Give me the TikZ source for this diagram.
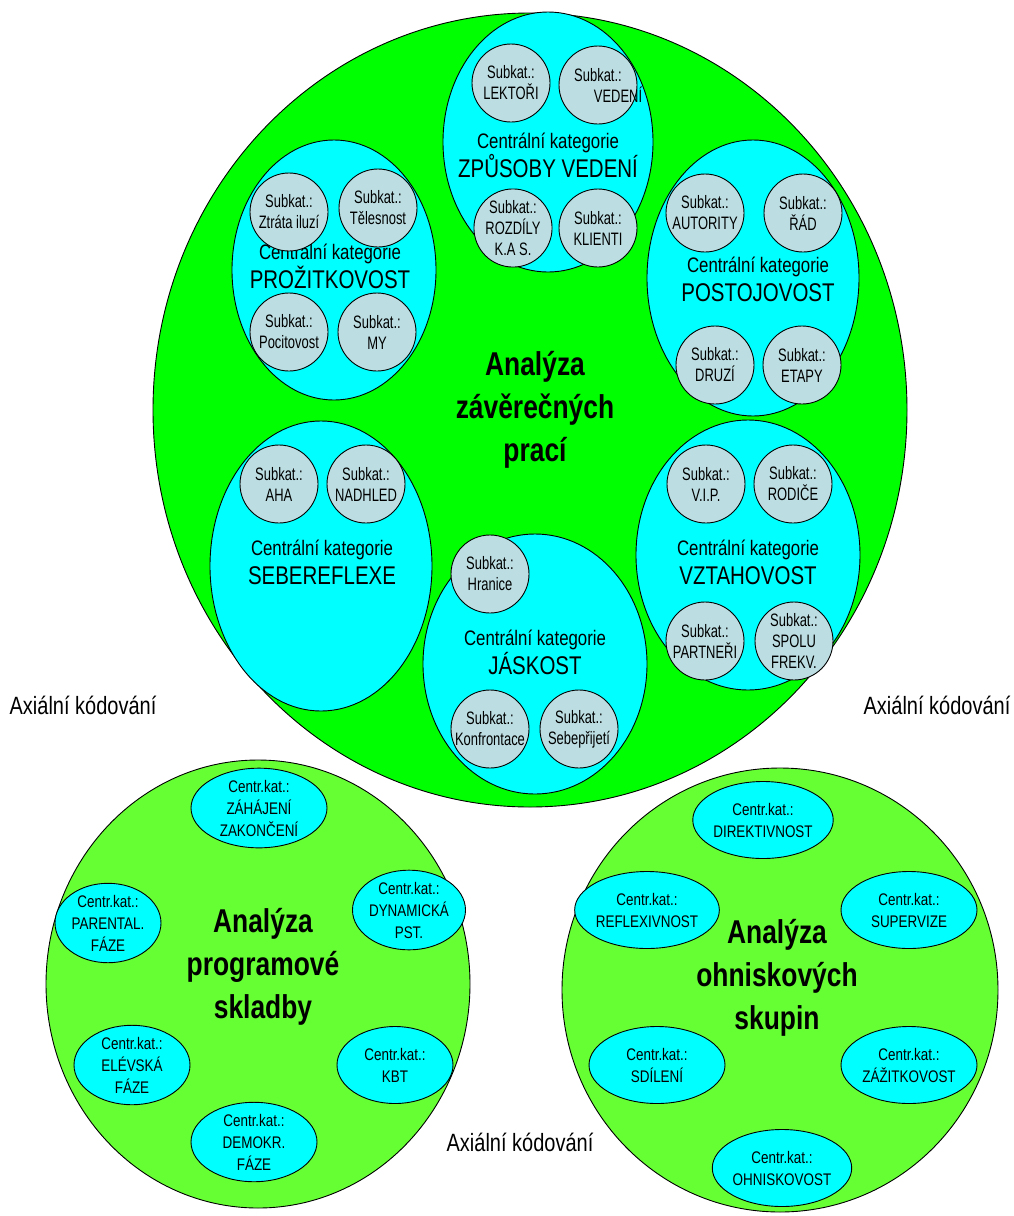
\documentclass[tikz,border=0pt]{standalone}
\usepackage{fontspec}
\setmainfont{Liberation Sans}[FakeStretch=0.8]
\newfontfamily\narrowfont{Liberation Sans}[FakeStretch=0.72]
\usepackage{tikz}
\usetikzlibrary{shapes.geometric}
\usepackage{xcolor}
\definecolor{bigGreen}{RGB}{0,255,0}
\definecolor{lightGreen}{RGB}{102,255,51}
\definecolor{cyanFill}{RGB}{0,255,255}
\definecolor{subGray}{RGB}{188,222,226}
\newcommand{\catname}[1]{{\fontsize{25.6}{30}\selectfont #1}}

\begin{document}
\begin{tikzpicture}[x=1pt, y=-1pt,
    outline/.style={draw, line width=0.9pt},
    area/.style={outline, ellipse, inner sep=0pt},
    central/.style={outline, ellipse, inner sep=0pt, fill=cyanFill},
    subkat/.style={outline, circle, fill=subGray, minimum size=78pt, inner sep=0pt,
                   align=center, font=\narrowfont\fontsize{18}{21}\selectfont},
    catlabel/.style={align=center, font=\fontsize{21}{29}\selectfont},
    centr/.style={outline, ellipse, fill=cyanFill, minimum height=77pt, inner sep=0pt,
                  align=center, font=\fontsize{16.8}{22}\selectfont},
    title/.style={align=center, font=\fontsize{33}{43}\selectfont\bfseries},
    axial/.style={font=\fontsize{25}{30}\selectfont}
  ]
    \path[use as bounding box, fill=white] (0,0) rectangle (1014,1216);

    \node[area, fill=bigGreen, minimum width=754pt, minimum height=794pt] (zaverecne) at (530,410) {};

    \node[central, minimum width=210pt, minimum height=260pt] (zpusoby) at (548,142) {};
    \node[central, minimum width=204pt, minimum height=260pt] (prozit)  at (334,270) {};
    \node[central, minimum width=212pt, minimum height=276pt] (postoj)  at (753,278) {};
    \node[central, minimum width=222pt, minimum height=290pt] (sebe)    at (321,566) {};
    \node[central, minimum width=224pt, minimum height=270pt] (vztah)   at (748,555) {};
    \node[central, minimum width=224pt, minimum height=260pt] (jas)     at (535,664) {};

    \node[catlabel] (zpusobyL) at (548,155) {Centrální kategorie\\\catname{ZPŮSOBY VEDENÍ}};
    \node[subkat] (lektori) at (511,83)  {Subkat.:\\LEKTOŘI};
    \node[subkat] (vedeni)  at (598,85)  {Subkat.:\\\makebox[48pt][c]{\hspace{40pt}VEDENÍ}};
    \node[subkat] (rozdily) at (513,228) {Subkat.:\\ROZDÍLY\\K.A S.};
    \node[subkat] (klienti) at (598,228) {Subkat.:\\KLIENTI};

    \node[catlabel] (prozitL) at (330,266) {Centrální kategorie\\\catname{PROŽITKOVOST}};
    \node[subkat] (ztrata)     at (289,212) {Subkat.:\\Ztráta iluzí};
    \node[subkat] (telesnost)  at (378,208) {Subkat.:\\Tělesnost};
    \node[subkat] (pocitovost) at (289,332) {Subkat.:\\Pocitovost};
    \node[subkat] (my)         at (377,332) {Subkat.:\\MY};

    \node[catlabel] (postojL) at (758,279) {Centrální kategorie\\\catname{POSTOJOVOST}};
    \node[subkat] (autority) at (705,213) {Subkat.:\\AUTORITY};
    \node[subkat] (rad)      at (803,213) {Subkat.:\\ŘÁD};
    \node[subkat] (druzi)    at (715,365) {Subkat.:\\DRUZÍ};
    \node[subkat] (etapy)    at (802,365) {Subkat.:\\ETAPY};

    \node[catlabel] (sebeL) at (322,562) {Centrální kategorie\\\catname{SEBEREFLEXE}};
    \node[subkat] (aha)     at (279,484) {Subkat.:\\AHA};
    \node[subkat] (nadhled) at (366,484) {Subkat.:\\NADHLED};

    \node[catlabel] (vztahL) at (748,562) {Centrální kategorie\\\catname{VZTAHOVOST}};
    \node[subkat] (vip)      at (706,484) {Subkat.:\\V.I.P.};
    \node[subkat] (rodice)   at (793,484) {Subkat.:\\RODIČE};
    \node[subkat] (partneri) at (705,641) {Subkat.:\\PARTNEŘI};
    \node[subkat] (spolu)    at (794,641) {Subkat.:\\SPOLU\\FREKV.};

    \node[catlabel] (jasL) at (535,652) {Centrální kategorie\\\catname{JÁSKOST}};
    \node[subkat] (hranice)     at (490,574) {Subkat.:\\Hranice};
    \node[subkat] (konfrontace) at (490,729) {Subkat.:\\Konfrontace};
    \node[subkat] (sebeprijeti) at (579,729) {Subkat.:\\Sebepřijetí};

    \node[title] (zaverecneT) at (535,410) {Analýza\\závěrečných\\prací};

    \node[area, fill=lightGreen, minimum width=424pt, minimum height=448pt] (programova) at (258,984) {};
    \node[centr, minimum width=136pt] (zahajeni)  at (259,808)  {Centr.kat.:\\ZÁHÁJENÍ\\ZAKONČENÍ};
    \node[centr, minimum width=106pt] (parental)  at (108,923)  {Centr.kat.:\\PARENTAL.\\FÁZE};
    \node[centr, minimum width=106pt] (dynamicka) at (409,910)  {Centr.kat.:\\DYNAMICKÁ\\PST.};
    \node[centr, minimum width=116pt] (elevska)   at (132,1065) {Centr.kat.:\\ELÉVSKÁ\\FÁZE};
    \node[centr, minimum width=116pt] (kbt)       at (395,1065) {Centr.kat.:\\KBT};
    \node[centr, minimum width=126pt] (demokr)    at (254,1142) {Centr.kat.:\\DEMOKR.\\FÁZE};
    \node[title] (programovaT) at (263,967) {Analýza\\programové\\skladby};

    \node[area, fill=lightGreen, minimum width=436pt, minimum height=444pt] (ohniskova) at (780,990) {};
    \node[centr, minimum width=136pt] (direktivnost) at (763,820)  {Centr.kat.:\\DIREKTIVNOST};
    \node[centr, minimum width=136pt] (reflexivnost) at (647,910)  {Centr.kat.:\\REFLEXIVNOST};
    \node[centr, minimum width=136pt] (supervize)    at (909,910)  {Centr.kat.:\\SUPERVIZE};
    \node[centr, minimum width=136pt] (sdileni)      at (657,1065) {Centr.kat.:\\SDÍLENÍ};
    \node[centr, minimum width=136pt] (zazitkovost)  at (909,1065) {Centr.kat.:\\ZÁŽITKOVOST};
    \node[centr, minimum width=136pt] (ohniskovost)  at (782,1168) {Centr.kat.:\\OHNISKOVOST};
    \node[title] (ohniskovaT) at (777,978) {Analýza\\ohniskových\\skupin};

    \node[axial] (axialL) at (83,705)   {Axiální kódování};
    \node[axial] (axialR) at (937,705)  {Axiální kódování};
    \node[axial] (axialB) at (520,1142) {Axiální kódování};
  \end{tikzpicture}
\end{document}
